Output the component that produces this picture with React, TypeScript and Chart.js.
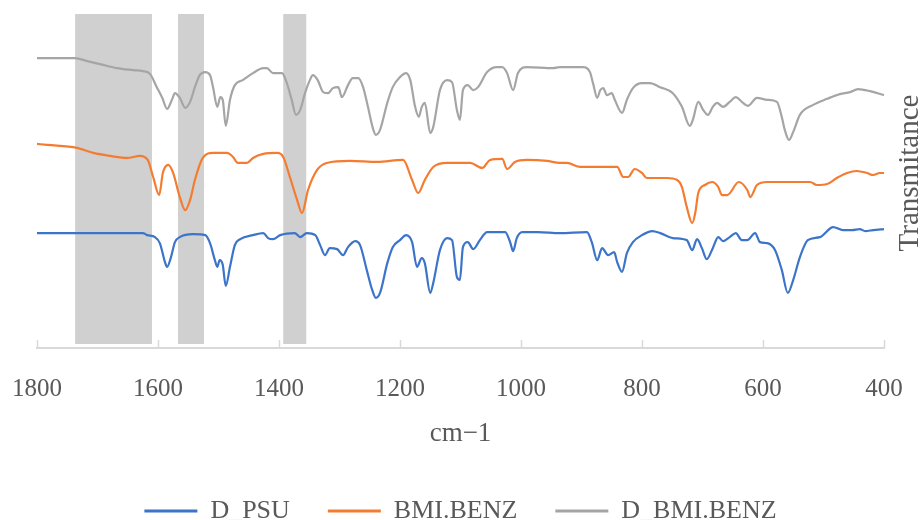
import React, { useEffect, useRef } from "react";
import { Chart, registerables } from "chart.js";

Chart.register(...registerables);

const xTicks = [1800, 1600, 1400, 1200, 1000, 800, 600, 400];
const bandFrom = [1737, 1567, 1393];
const bandTo = [1610, 1524, 1355];

const seriesNames = ["D_PSU", "BMI.BENZ", "D_BMI.BENZ"];

const psuWn = [1800,1625,1618,1605,1597,1588,1585,1579,1572,1564,1542,1522,1514,1506,1502,1498,1493,1488,1481,1473,1464,1443,1426,1418,1410,1398,1374,1365,1354,1340,1332,1324,1316,1304,1294,1286,1274,1266,1255,1246,1240,1233,1221,1212,1200,1190,1180,1172,1164,1159,1150,1145,1134,1122,1114,1106,1101,1096,1088,1079,1068,1056,1026,1018,1013,1007,998,972,936,891,883,874,866,856,846,841,833,825,815,800,783,770,749,726,717,709,701,693,683,674,666,655,645,635,626,613,605,593,580,569,559,550,539,526,506,484,468,453,440,431,418,400];
const psuT = [34.4,34.4,33.8,33.2,31.4,25.4,24.3,26.9,31.7,33.2,34.1,33.8,31.4,26.3,24.3,26.3,24.9,18.6,24.3,30.8,32.6,33.8,34.4,32.9,32.6,33.8,34.4,33.2,34.4,33.8,30.8,27.8,29.9,29.6,27.8,30.2,32.0,30.8,23.4,17.4,15.0,16.5,25.4,30.2,32.3,33.8,31.7,24.3,26.9,25.4,16.5,19.5,29.3,32.9,32.3,21.3,20.4,30.2,31.7,29.6,32.3,34.7,34.7,31.7,29.0,32.9,34.7,34.7,34.4,34.7,31.7,26.3,29.9,27.8,28.7,25.7,22.8,28.4,31.7,33.8,35.0,34.4,32.9,32.3,29.3,32.6,29.9,26.6,29.9,33.2,32.0,33.2,34.4,32.3,32.3,34.4,31.7,31.4,29.3,23.4,16.5,20.4,27.2,32.3,33.2,36.2,35.3,35.3,35.6,35.0,35.3,35.6];

const bmiWn = [1800,1783,1734,1707,1679,1651,1630,1617,1608,1598,1592,1583,1575,1564,1555,1547,1539,1526,1509,1486,1476,1468,1453,1443,1426,1403,1393,1382,1370,1362,1352,1337,1321,1283,1238,1195,1180,1170,1159,1145,1122,1101,1084,1064,1051,1031,1023,1010,990,957,936,924,902,841,831,823,812,800,792,759,742,734,726,717,712,707,696,684,674,668,659,640,626,621,610,593,522,511,494,478,461,445,428,418,407,400];
const bmiT = [61.1,60.8,59.9,58.4,57.5,56.9,57.5,56.3,51.2,45.8,52.4,54.8,52.4,45.2,41.3,44.3,50.3,56.9,58.4,58.4,57.2,55.4,55.4,56.9,58.1,58.4,57.2,51.2,44.3,40.4,47.3,53.3,55.4,56.0,55.7,56.3,50.3,46.4,50.3,54.2,55.4,55.4,55.4,53.9,56.3,56.6,53.6,55.7,56.3,56.0,55.4,55.4,54.2,54.2,51.2,51.2,53.6,52.4,50.9,50.9,50.3,48.2,42.2,37.4,40.4,46.4,48.8,49.7,48.2,45.8,45.8,49.7,47.3,45.2,48.8,49.7,49.7,48.8,49.1,50.9,52.4,53.0,52.4,51.8,52.4,52.4];

const dbmiWn = [1800,1737,1717,1696,1668,1641,1625,1613,1602,1593,1585,1577,1572,1564,1555,1547,1539,1531,1522,1514,1509,1502,1497,1493,1488,1481,1473,1460,1443,1426,1420,1410,1395,1387,1379,1372,1365,1357,1349,1344,1336,1327,1319,1311,1302,1296,1286,1278,1269,1261,1253,1245,1240,1233,1221,1212,1200,1190,1183,1175,1169,1164,1159,1150,1145,1134,1122,1114,1106,1101,1096,1088,1079,1071,1056,1040,1031,1023,1013,1005,990,947,936,898,886,881,874,869,864,858,850,845,833,825,815,800,787,770,749,734,721,716,707,699,691,683,676,666,655,645,635,625,610,593,577,569,564,557,550,539,517,494,473,456,443,423,400];
const dbmiT = [86.8,86.8,85.9,85.0,83.8,83.2,82.9,82.0,78.1,74.9,71.6,74.3,76.3,74.9,71.9,73.7,78.1,81.7,82.6,81.7,78.1,72.2,75.1,74.3,66.5,74.3,78.7,80.2,82.3,83.8,83.8,82.3,82.3,79.3,74.3,69.8,71.3,76.3,80.2,81.7,80.2,76.6,76.3,77.8,78.1,75.1,78.7,80.8,80.8,78.1,72.2,65.9,63.8,65.3,73.4,78.1,81.1,82.3,80.2,72.2,69.2,72.2,73.4,64.4,66.2,77.2,80.2,79.6,71.3,68.3,77.2,78.7,77.2,78.1,82.6,84.1,84.1,82.3,77.2,82.3,84.1,83.8,84.1,84.1,82.6,79.3,74.9,77.2,77.8,75.7,76.3,74.3,70.4,74.3,77.8,79.3,79.3,78.1,76.3,72.2,66.5,68.3,73.7,71.3,69.8,72.2,73.4,72.2,73.7,75.1,73.7,72.5,74.9,74.3,73.7,69.2,65.3,62.3,64.7,69.8,72.8,74.6,76.0,76.6,77.5,76.9,75.7];

const seriesColors = ["#3b74c9", "#f47c30", "#a5a5a5"];
const textColor = "#595959";
const bandColor = "#d0d0d0";
const axisColor = "#d9d9d9";
const FONT = "'Liberation Serif', 'Times New Roman', serif";

const toPoints = (xs: number[], ys: number[]) => xs.map((x, i) => ({ x, y: ys[i] }));

const decorPlugin = {
  id: "decor",
  beforeDatasetsDraw(chart: any) {
    const { ctx, chartArea } = chart;
    const xs = chart.scales.x;
    ctx.save();
    ctx.fillStyle = bandColor;
    bandFrom.forEach((a, i) => {
      const x1 = xs.getPixelForValue(a);
      const x2 = xs.getPixelForValue(bandTo[i]);
      ctx.fillRect(Math.min(x1, x2), chartArea.top, Math.abs(x2 - x1), chartArea.bottom - chartArea.top - 4);
    });
    ctx.restore();
  },
  afterDraw(chart: any) {
    const { ctx, chartArea } = chart;
    const xs = chart.scales.x;
    ctx.save();
    ctx.strokeStyle = axisColor;
    ctx.lineWidth = 1.5;
    xs.ticks.forEach((t: any) => {
      const px = Math.round(xs.getPixelForValue(t.value)) + 0.5;
      ctx.beginPath();
      ctx.moveTo(px, chartArea.bottom);
      ctx.lineTo(px, chartArea.bottom - 8);
      ctx.stroke();
    });
    ctx.translate(910, (chartArea.top + chartArea.bottom) / 2 - 8);
    ctx.rotate(-Math.PI / 2);
    ctx.fillStyle = textColor;
    ctx.font = `29px ${FONT}`;
    ctx.textAlign = "center";
    ctx.textBaseline = "middle";
    ctx.fillText("Transmitance", 0, 0);
    ctx.restore();
  },
};

export default function App() {
  const ref = useRef<HTMLCanvasElement | null>(null);

  useEffect(() => {
    if (!ref.current) return;
    const chart = new Chart(ref.current, {
      type: "line",
      data: {
        datasets: [
          { label: seriesNames[0], data: toPoints(psuWn, psuT), borderColor: seriesColors[0], backgroundColor: seriesColors[0] },
          { label: seriesNames[1], data: toPoints(bmiWn, bmiT), borderColor: seriesColors[1], backgroundColor: seriesColors[1] },
          { label: seriesNames[2], data: toPoints(dbmiWn, dbmiT), borderColor: seriesColors[2], backgroundColor: seriesColors[2] },
        ].map((d) => ({ ...d, borderWidth: 2.2, pointRadius: 0, cubicInterpolationMode: "monotone", fill: false })),
      },
      options: {
        animation: false,
        responsive: true,
        maintainAspectRatio: false,
        layout: { padding: { left: 37, right: 37, top: 14, bottom: 0 } },
        plugins: {
          tooltip: { enabled: false },
          legend: {
            position: "bottom",
            maxHeight: 60,
            labels: {
              usePointStyle: true,
              pointStyle: "line",
              pointStyleWidth: 53,
              padding: 38,
              color: textColor,
              font: { family: FONT, size: 26 },
              generateLabels: (c: any) =>
                (Chart.defaults.plugins.legend.labels as any).generateLabels(c).map((l: any) => ({ ...l, lineWidth: 3 })),
            },
          },
        },
        scales: {
          x: {
            type: "linear",
            min: 400,
            max: 1800,
            reverse: true,
            afterBuildTicks: (s: any) => {
              s.ticks = xTicks.map((v) => ({ value: v }));
            },
            ticks: {
              padding: 4,
              color: textColor,
              font: { family: FONT, size: 25 },
              callback: (v: any) => String(v),
            },
            grid: { display: false, drawTicks: true, tickLength: 22 },
            border: { display: true, color: axisColor, width: 2 },
            title: {
              display: true,
              text: "cm−1",
              color: textColor,
              font: { family: FONT, size: 27 },
              padding: { top: 9.6, bottom: 10 },
            },
          },
          y: { display: false, min: 0, max: 100 },
        },
      },
      plugins: [decorPlugin],
    } as any);
    return () => chart.destroy();
  }, []);

  return (
    <div style={{ position: "fixed", left: 0, top: 0, width: 921, height: 520, background: "#fff" }}>
      <canvas ref={ref} />
    </div>
  );
}
